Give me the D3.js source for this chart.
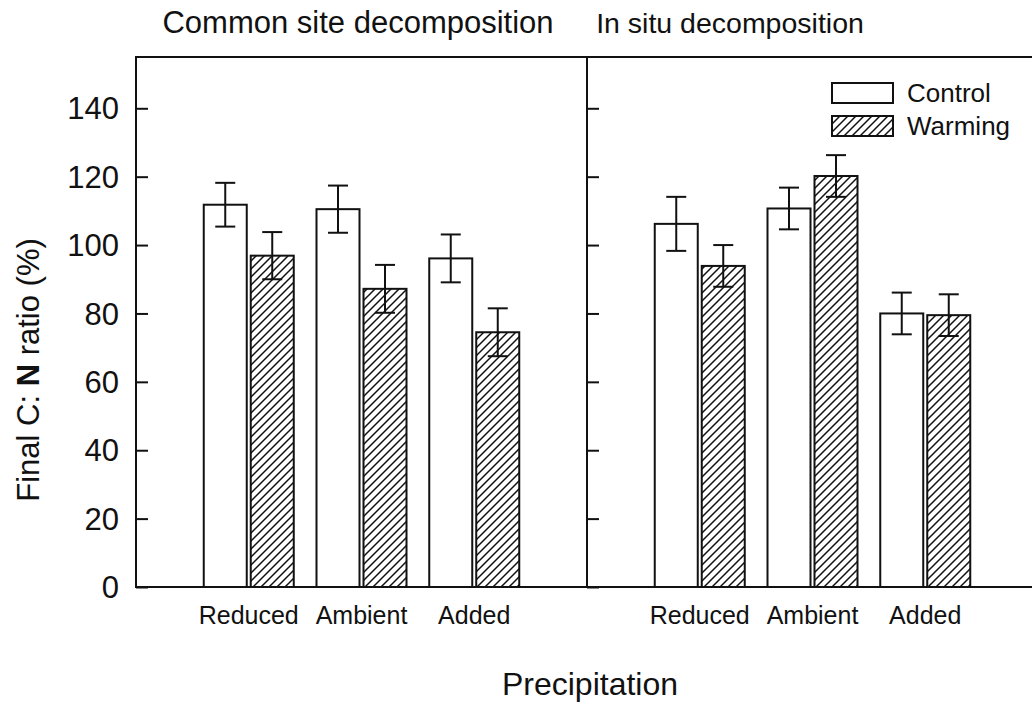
<!DOCTYPE html>
<html>
<head>
<meta charset="utf-8">
<script src="https://cdn.jsdelivr.net/npm/d3@7"></script>
<style>
  body { margin: 0; background: #fff; }
  svg { display: block; font-family: Arial, "Liberation Sans", sans-serif; }
</style>
</head>
<body>
<script>
// values
const categories = ["Reduced", "Ambient", "Added"];
const treatments = ["Control", "Warming"];
const yTicks = [0, 20, 40, 60, 80, 100, 120, 140];

const commonControl = [111.8, 110.5, 96.1];
const commonControlErr = [6.4, 6.9, 7.0];
const commonWarming = [96.9, 87.2, 74.5];
const commonWarmingErr = [6.9, 7.0, 7.0];

const insituControl = [106.2, 110.7, 80.0];
const insituControlErr = [7.9, 6.1, 6.1];
const insituWarming = [93.9, 120.2, 79.5];
const insituWarmingErr = [6.1, 6.1, 6.1];

const panels = [
  { title: "Common site decomposition", left: 136, titleX: 358, titleSize: 31,
    control: commonControl, controlErr: commonControlErr,
    warming: commonWarming, warmingErr: commonWarmingErr },
  { title: "In situ decomposition", left: 587, titleX: 730, titleSize: 28.5,
    control: insituControl, controlErr: insituControlErr,
    warming: insituWarming, warmingErr: insituWarmingErr }
];

const width = 1032, height = 702;
const plotTop = 57, plotBottom = 587, panelW = 451;

const svg = d3.select("body").append("svg")
  .attr("width", width).attr("height", height);

// hatch pattern for the warming bars
const defs = svg.append("defs");
defs.append("pattern")
  .attr("id", "hatch")
  .attr("patternUnits", "userSpaceOnUse")
  .attr("width", 8).attr("height", 8)
  .call(p => {
    p.append("rect").attr("width", 8).attr("height", 8).attr("fill", "#fff");
    p.append("path")
      .attr("d", "M-2,2 L2,-2 M0,8 L8,0 M6,10 L10,6")
      .attr("stroke", "#111").attr("stroke-width", 1.5);
  });

const y = d3.scaleLinear().domain([0, 155]).range([plotBottom, plotTop]);

panels.forEach((pd, pi) => {
  const g = svg.append("g").attr("transform", `translate(${pd.left},0)`);

  const x0 = d3.scaleBand()
    .domain(categories)
    .range([panelW / 8, panelW * 7 / 8])
    .padding(0);
  const x1 = d3.scaleBand()
    .domain(treatments)
    .range([-45, 45])
    .paddingInner(4 / 47)
    .paddingOuter(0);

  const rows = [];
  categories.forEach((c, i) => {
    rows.push({ cat: c, trt: "Control", v: pd.control[i], e: pd.controlErr[i] });
    rows.push({ cat: c, trt: "Warming", v: pd.warming[i], e: pd.warmingErr[i] });
  });
  const barX = d => x0(d.cat) + x0.bandwidth() / 2 + x1(d.trt);

  // bars
  g.selectAll("rect.bar")
    .data(rows)
    .join("rect")
    .attr("class", "bar")
    .attr("x", barX)
    .attr("y", d => y(d.v))
    .attr("width", x1.bandwidth())
    .attr("height", d => y(0) - y(d.v))
    .attr("fill", d => d.trt === "Warming" ? "url(#hatch)" : "#fff")
    .attr("stroke", "#111")
    .attr("stroke-width", 2);

  // error bars
  const eb = g.selectAll("g.err")
    .data(rows)
    .join("g")
    .attr("class", "err")
    .attr("transform", d => `translate(${barX(d) + x1.bandwidth() / 2},0)`)
    .attr("stroke", "#111")
    .attr("stroke-width", 2);
  eb.append("line").attr("y1", d => y(d.v + d.e)).attr("y2", d => y(d.v - d.e));
  eb.append("line").attr("x1", -10).attr("x2", 10)
    .attr("y1", d => y(d.v + d.e)).attr("y2", d => y(d.v + d.e));
  eb.append("line").attr("x1", -10).attr("x2", 10)
    .attr("y1", d => y(d.v - d.e)).attr("y2", d => y(d.v - d.e));

  // y axis with inward ticks
  const yAxis = d3.axisRight(y).tickValues(yTicks).tickSize(12).tickFormat("");
  g.append("g").call(yAxis)
    .call(a => a.select(".domain").remove())
    .selectAll("line").attr("stroke", "#111").attr("stroke-width", 2);

  // frame
  const right = pi === 0 ? panelW : panelW + 10;
  g.append("path")
    .attr("d", pi === 0
      ? `M0,${plotTop}H${right}V${plotBottom}H0Z`
      : `M${right},${plotTop}H0V${plotBottom}H${right}`)
    .attr("fill", "none")
    .attr("stroke", "#111")
    .attr("stroke-width", 2);

  // category labels
  g.selectAll("text.cat")
    .data(categories)
    .join("text")
    .attr("class", "cat")
    .attr("x", d => x0(d) + x0.bandwidth() / 2)
    .attr("y", 624)
    .attr("text-anchor", "middle")
    .attr("font-size", 25)
    .attr("fill", "#111")
    .text(d => d);

  svg.append("text")
    .attr("x", pd.titleX)
    .attr("y", 33)
    .attr("text-anchor", "middle")
    .attr("font-size", pd.titleSize)
    .attr("fill", "#111")
    .text(pd.title);
});

// y tick labels (left panel only)
svg.append("g")
  .selectAll("text")
  .data(yTicks)
  .join("text")
  .attr("x", 119)
  .attr("y", d => y(d))
  .attr("dy", "0.36em")
  .attr("text-anchor", "end")
  .attr("font-size", 31)
  .attr("fill", "#111")
  .text(d => d);

// y axis title
const yl = svg.append("text")
  .attr("transform", "translate(39,370) rotate(-90)")
  .attr("text-anchor", "middle")
  .attr("font-size", 31)
  .attr("fill", "#111");
yl.append("tspan").text("Final C: ");
yl.append("tspan").attr("font-weight", "bold").text("N");
yl.append("tspan").text(" ratio (%)");

// x axis title
svg.append("text")
  .attr("x", 590)
  .attr("y", 695)
  .attr("text-anchor", "middle")
  .attr("font-size", 32)
  .attr("fill", "#111")
  .text("Precipitation");

// legend
const legend = svg.append("g").attr("transform", "translate(832,83)");
legend.selectAll("g")
  .data(treatments)
  .join("g")
  .attr("transform", (d, i) => `translate(0,${i * 33})`)
  .call(lg => {
    lg.append("rect")
      .attr("width", 61).attr("height", 20)
      .attr("fill", d => d === "Warming" ? "url(#hatch)" : "#fff")
      .attr("stroke", "#111").attr("stroke-width", 2);
    lg.append("text")
      .attr("x", 75).attr("y", 10).attr("dy", "0.36em")
      .attr("font-size", 26)
      .attr("fill", "#111")
      .text(d => d);
  });
</script>
</body>
</html>
